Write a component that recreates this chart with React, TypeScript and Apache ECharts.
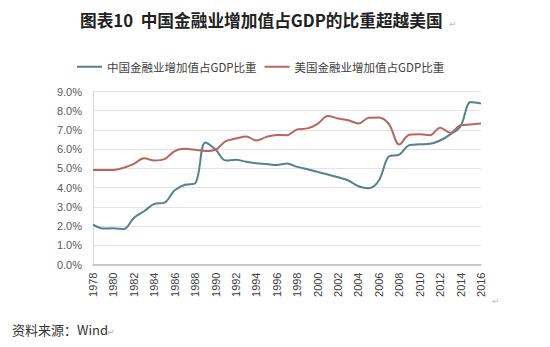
import React, { useEffect, useRef } from "react";
import * as echarts from "echarts";

const years: string[] = [
  "1978", "1979", "1980", "1981", "1982", "1983", "1984", "1985", "1986", "1987",
  "1988", "1989", "1990", "1991", "1992", "1993", "1994", "1995", "1996", "1997",
  "1998", "1999", "2000", "2001", "2002", "2003", "2004", "2005", "2006", "2007",
  "2008", "2009", "2010", "2011", "2012", "2013", "2014", "2015", "2016",
];

const chinaShare: number[] = [
  2.07, 1.87, 1.88, 1.84, 2.42, 2.77, 3.15, 3.22, 3.86, 4.15,
  4.22, 6.35, 5.98, 5.41, 5.45, 5.34, 5.27, 5.23, 5.18, 5.25,
  5.08, 4.96, 4.82, 4.68, 4.54, 4.37, 4.07, 3.97, 4.37, 5.63,
  5.72, 6.21, 6.25, 6.28, 6.45, 6.77, 7.2, 8.45, 8.37,
];

const usShare: number[] = [
  4.92, 4.92, 4.92, 5.03, 5.23, 5.53, 5.41, 5.48, 5.9, 6.02,
  5.97, 5.9, 5.97, 6.42, 6.55, 6.66, 6.45, 6.64, 6.74, 6.73,
  7.03, 7.08, 7.32, 7.72, 7.6, 7.5, 7.34, 7.63, 7.65, 7.29,
  6.24, 6.75, 6.77, 6.73, 7.12, 6.85, 7.25, 7.28, 7.33,
];

const seriesNames: string[] = ["中国金融业增加值占GDP比重", "美国金融业增加值占GDP比重"];
const titleText = "图表10  中国金融业增加值占GDP的比重超越美国";
const sourceText = "资料来源：Wind";

const CN_COLOR = "#55818f";
const US_COLOR = "#b9655f";

export default function App() {
  const ref = useRef<HTMLDivElement>(null);

  useEffect(() => {
    if (!ref.current) return;
    const chart = echarts.init(ref.current, undefined, { renderer: "svg" });
    const cjk = '"Noto Sans CJK SC", "Noto Sans", sans-serif';
    chart.setOption({
      animation: false,
      backgroundColor: "#ffffff",
      textStyle: { fontFamily: cjk },
      legend: {
        left: 77,
        top: 61,
        padding: 0,
        itemWidth: 25,
        itemHeight: 2,
        itemGap: 8,
        icon: "rect",
        textStyle: { fontSize: 11.5, color: "#404040", fontFamily: cjk },
        data: seriesNames,
      },
      grid: { left: 93, right: 69, top: 91.5, bottom: 82.5, containLabel: false },
      xAxis: {
        type: "category",
        data: years,
        boundaryGap: false,
        axisLine: { show: true, lineStyle: { color: "#bfbfbf", width: 1.5 } },
        axisTick: { show: false },
        axisLabel: {
          rotate: 90,
          interval: 1,
          fontSize: 11,
          margin: 8,
          color: "#404040",
          fontFamily: '"Liberation Sans", sans-serif',
        },
        splitLine: { show: false },
      },
      yAxis: {
        type: "value",
        min: 0,
        max: 9,
        interval: 1,
        axisLine: { show: true, lineStyle: { color: "#d9d9d9" } },
        axisTick: { show: false },
        axisLabel: {
          fontSize: 11,
          margin: 11,
          color: "#595959",
          fontFamily: '"Liberation Sans", sans-serif',
          formatter: (v: number) => v.toFixed(1) + "%",
        },
        splitLine: { show: true, lineStyle: { color: "#e3e3e3", width: 1 } },
      },
      series: [
        {
          name: seriesNames[0],
          type: "line",
          data: chinaShare,
          smooth: 0.35,
          symbol: "none",
          lineStyle: { color: CN_COLOR, width: 2 },
          itemStyle: { color: CN_COLOR },
        },
        {
          name: seriesNames[1],
          type: "line",
          data: usShare,
          smooth: 0.35,
          symbol: "none",
          lineStyle: { color: US_COLOR, width: 2 },
          itemStyle: { color: US_COLOR },
        },
      ],
      graphic: [
        {
          type: "text",
          left: 80,
          top: 12,
          style: {
            text: titleText,
            font: 'bold 16.7px "Noto Sans CJK SC", sans-serif',
            fill: "#222222",
          },
        },
        {
          type: "text",
          left: 449,
          top: 19,
          style: { text: "↵", font: '9px "DejaVu Sans", sans-serif', fill: "#bbbbbb" },
        },
        {
          type: "text",
          left: 492,
          top: 296,
          style: { text: "↵", font: '9px "DejaVu Sans", sans-serif', fill: "#bbbbbb" },
        },
        {
          type: "text",
          left: 12,
          top: 323,
          style: {
            text: sourceText,
            font: '13px "Noto Sans CJK SC", monospace',
            fill: "#333333",
          },
        },
        {
          type: "text",
          left: 107,
          top: 327,
          style: { text: "↵", font: '9px "DejaVu Sans", sans-serif', fill: "#bbbbbb" },
        },
      ],
    });
    return () => chart.dispose();
  }, []);

  return (
    <div
      ref={ref}
      style={{ position: "fixed", left: 0, top: 0, width: 550, height: 347 }}
    />
  );
}
